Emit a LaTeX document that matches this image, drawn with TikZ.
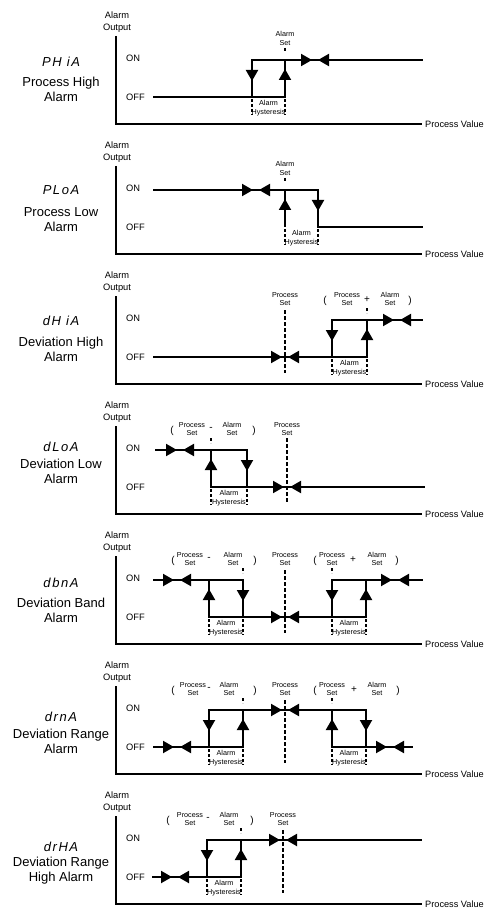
\documentclass[tikz,border=0pt]{standalone}
\usepackage{fontspec}
\setmainfont{Liberation Sans}
\newfontfamily\segfont[LetterSpace=12]{Liberation Sans}
\usetikzlibrary{arrows.meta}

% arrow heads of the switching curves
\newcommand{\meet}[2]{%
 \draw[tri] (#1-14,#2) -- (#1-3,#2);
 \draw[tri] (#1+14,#2) -- (#1+3,#2);}
\newcommand{\downat}[1]{\draw[tri] (#1,69) -- (#1,81);}
\newcommand{\upat}[1]{\draw[tri] (#1,81) -- (#1,69);}
\newcommand{\hystat}[2]{%
 \draw[hyst] (#1,99) -- (#1,115);
 \draw[hyst] (#2,99) -- (#2,115);
 \node[small] (hy#1) at ({(#1+#2)/2},108) {Alarm\\Hysteresis};}
\newcommand{\setmark}[1]{\draw[hyst] (#1,48) -- (#1,53);}

\begin{document}
\begin{tikzpicture}[x=1pt, y=-1pt,
  wave/.style={line width=2pt},
  axis/.style={line width=2pt},
  tri/.style={line width=2pt, -{Triangle[length=11pt,width=12pt]}},
  setline/.style={line width=2pt, dash pattern=on 4pt off 2pt},
  hyst/.style={line width=1.6pt, dash pattern=on 3pt off 2pt},
  small/.style={font=\fontsize{7.2}{8.6}\selectfont, align=center, inner sep=0pt},
  sign/.style={font=\fontsize{10}{12}\selectfont, inner sep=0pt},
  level/.style={font=\fontsize{9.3}{11}\selectfont, anchor=west, inner sep=0pt},
  title/.style={font=\fontsize{13}{15}\selectfont, align=center, inner sep=0pt},
  segtext/.style={font=\segfont\itshape\fontsize{13}{15}\selectfont, inner sep=0pt}]
 \useasboundingbox (0,0) rectangle (486,909);

 % axes and names of the seven panels
 \foreach \k/\seg/\sy/\ty/\first/\second in {
   0/PH iA/62/89.5/Process High/Alarm,
   1/PLoA/60/90/Process Low/Alarm,
   2/dH iA/61/89.5/Deviation High/Alarm,
   3/dLoA/57/81/Deviation Low/Alarm,
   4/dbnA/63/90/Deviation Band/Alarm,
   5/drnA/67/91.5/Deviation Range/Alarm,
   6/drHA/67/90.5/Deviation Range/High Alarm} {
  \begin{scope}[yshift={-130pt*\k}]
   \draw[axis] (116,36) -- (116,124) -- (422,124);
   \node[small, font=\fontsize{9.3}{12}\selectfont] (out\k) at (117,22) {Alarm\\Output};
   \node[level] (on\k) at (126,58) {ON};
   \node[level] (off\k) at (126,97) {OFF};
   \node[anchor=west, inner sep=0pt, font=\fontsize{9.2}{11}\selectfont] (pv\k) at (425,124) {Process Value};
   \node[segtext] (seg\k) at (61,\sy) {\seg};
   \node[title] (name\k) at (61,\ty) {\first\\\second};
  \end{scope}
 }

 % process high
 \begin{scope}
  \draw[wave] (153,97) -- (285,97) -- (285,60);
  \draw[wave] (252,97) -- (252,60) -- (423,60);
  \downat{252} \upat{285} \meet{315}{60}
  \node[small] (as1) at (285,38.5) {Alarm\\Set};
  \setmark{285}
  \hystat{252}{285}
 \end{scope}

 % process low
 \begin{scope}[yshift=-130pt]
  \draw[wave] (153,60) -- (318,60) -- (318,97) -- (423,97);
  \draw[wave] (285,97) -- (285,60);
  \upat{285} \downat{318} \meet{256}{60}
  \node[small] (as2) at (285,38.5) {Alarm\\Set};
  \setmark{285}
  \hystat{285}{318}
 \end{scope}

 % deviation high
 \begin{scope}[yshift=-260pt]
  \draw[wave] (153,97) -- (367,97) -- (367,60);
  \draw[wave] (332,97) -- (332,60) -- (423,60);
  \draw[setline] (285,50) -- (285,113);
  \meet{285}{97} \downat{332} \upat{367} \meet{397}{60}
  \node[small] (ps3) at (285,39) {Process\\Set};
  \node[sign] (lp3) at (325,41) {(};
  \node[small] (ps3b) at (347,39) {Process\\Set};
  \node[sign] (pl3) at (367,40) {+};
  \node[small] (as3) at (390,39) {Alarm\\Set};
  \node[sign] (rp3) at (410,41) {)};
  \setmark{367}
  \hystat{332}{367}
 \end{scope}

 % deviation low
 \begin{scope}[yshift=-390pt]
  \draw[wave] (155,60) -- (247,60) -- (247,97);
  \draw[wave] (211,60) -- (211,97) -- (425,97);
  \draw[setline] (287,48) -- (287,113);
  \meet{180}{60} \upat{211} \downat{247} \meet{287}{97}
  \node[sign] (lp4) at (172,41) {(};
  \node[small] (ps4) at (192,39) {Process\\Set};
  \node[sign] (mi4) at (211,39) {-};
  \node[small] (as4) at (232,39) {Alarm\\Set};
  \node[sign] (rp4) at (254,41) {)};
  \node[small] (ps4b) at (287,39) {Process\\Set};
  \setmark{211}
  \hystat{211}{247}
 \end{scope}

 % deviation band
 \begin{scope}[yshift=-520pt]
  \draw[wave] (153,60) -- (243,60) -- (243,97);
  \draw[wave] (209,60) -- (209,97) -- (366,97) -- (366,60);
  \draw[wave] (332,97) -- (332,60) -- (423,60);
  \draw[setline] (285,50) -- (285,113);
  \meet{177}{60} \upat{209} \downat{243} \meet{285}{97}
  \downat{332} \upat{366} \meet{395}{60}
  \node[sign] (lp5) at (173,41) {(};
  \node[small] (ps5) at (190,39) {Process\\Set};
  \node[sign] (mi5) at (209,39) {-};
  \node[small] (as5) at (233,39) {Alarm\\Set};
  \node[sign] (rp5) at (255,41) {)};
  \node[small] (ps5b) at (285,39) {Process\\Set};
  \node[sign] (lq5) at (315,41) {(};
  \node[small] (ps5c) at (332,39) {Process\\Set};
  \node[sign] (pl5) at (353,40) {+};
  \node[small] (as5b) at (377,39) {Alarm\\Set};
  \node[sign] (rq5) at (397,41) {)};
  \setmark{243} \setmark{332}
  \hystat{209}{243} \hystat{332}{366}
 \end{scope}

 % deviation range
 \begin{scope}[yshift=-650pt]
  \draw[wave] (153,97) -- (243,97) -- (243,60);
  \draw[wave] (209,97) -- (209,60) -- (366,60) -- (366,97);
  \draw[wave] (332,60) -- (332,97) -- (413,97);
  \draw[setline] (285,50) -- (285,113);
  \meet{177}{97} \downat{209} \upat{243} \meet{285}{60}
  \upat{332} \downat{366} \meet{390}{97}
  \node[sign] (lp6) at (173,41) {(};
  \node[small] (ps6) at (193,39) {Process\\Set};
  \node[sign] (mi6) at (209,39) {-};
  \node[small] (as6) at (229,39) {Alarm\\Set};
  \node[sign] (rp6) at (255,41) {)};
  \node[small] (ps6b) at (285,39) {Process\\Set};
  \node[sign] (lq6) at (315,41) {(};
  \node[small] (ps6c) at (332,39) {Process\\Set};
  \node[sign] (pl6) at (354,40) {+};
  \node[small] (as6b) at (377,39) {Alarm\\Set};
  \node[sign] (rq6) at (398,41) {)};
  \setmark{243} \setmark{332}
  \hystat{209}{243} \hystat{332}{366}
 \end{scope}

 % deviation range high
 \begin{scope}[yshift=-780pt]
  \draw[wave] (152,97) -- (241,97) -- (241,60);
  \draw[wave] (207,97) -- (207,60) -- (422,60);
  \draw[setline] (283,50) -- (283,113);
  \meet{175}{97} \downat{207} \upat{241} \meet{283}{60}
  \node[sign] (lp7) at (168,41) {(};
  \node[small] (ps7) at (190,39) {Process\\Set};
  \node[sign] (mi7) at (208,39) {-};
  \node[small] (as7) at (229,39) {Alarm\\Set};
  \node[sign] (rp7) at (252,41) {)};
  \node[small] (ps7b) at (283,39) {Process\\Set};
  \setmark{241}
  \hystat{207}{241}
 \end{scope}
\end{tikzpicture}
\end{document}
